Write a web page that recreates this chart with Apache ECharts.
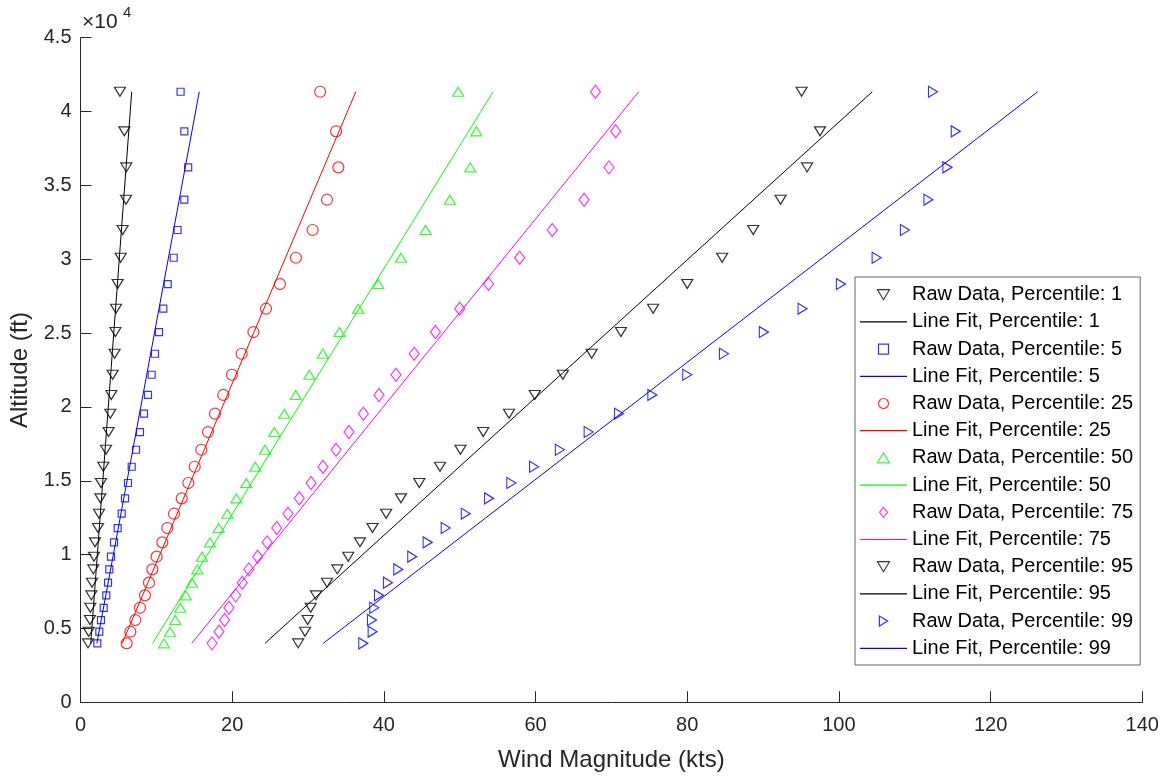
<!DOCTYPE html>
<html><head><meta charset="utf-8">
<script src="https://cdn.jsdelivr.net/npm/echarts@6/dist/echarts.min.js"></script>
<style>html,body{margin:0;padding:0;background:#fff}#c{width:1169px;height:780px}</style>
</head><body><div id="c"></div>
<script>
// Altitude levels (ft), top to bottom
const altitudeFt = [41340, 38660, 36220, 34030, 31980, 30100, 28320, 26650, 25070, 23600, 22180, 20810, 19540, 18300, 17100, 15950, 14850, 13810, 12770, 11800, 10830, 9860, 9000, 8100, 7240, 6400, 5570, 4780, 3990];
// Raw wind magnitude (kts) per percentile
const p1  = [5.2, 5.78, 6.04, 6.0, 5.56, 5.3, 4.9, 4.68, 4.6, 4.5, 4.24, 4.06, 3.93, 3.71, 3.36, 3.01, 2.70, 2.62, 2.44, 2.31, 1.91, 1.78, 1.69, 1.52, 1.43, 1.30, 1.25, 1.08, 0.99];
const p5  = [13.2, 13.69, 14.2, 13.69, 12.8, 12.29, 11.5, 10.92, 10.35, 9.82, 9.38, 8.9, 8.37, 7.84, 7.32, 6.75, 6.26, 5.87, 5.43, 4.9, 4.42, 4.02, 3.8, 3.63, 3.4, 3.06, 2.70, 2.48, 2.22];
const p25 = [31.6, 33.7, 34.0, 32.5, 30.6, 28.4, 26.3, 24.46, 22.8, 21.25, 19.97, 18.83, 17.73, 16.81, 15.93, 15.06, 14.22, 13.34, 12.33, 11.45, 10.79, 10.04, 9.47, 9.03, 8.5, 7.84, 7.23, 6.57, 6.09];
const p50 = [49.8, 52.2, 51.4, 48.7, 45.5, 42.25, 39.26, 36.6, 34.15, 31.95, 30.17, 28.37, 26.87, 25.55, 24.32, 23.05, 21.86, 20.54, 19.36, 18.22, 17.07, 16.02, 15.4, 14.7, 13.9, 13.16, 12.5, 11.8, 11.0];
const p75 = [67.9, 70.56, 69.68, 66.4, 62.2, 57.9, 53.8, 50.0, 46.8, 44.0, 41.6, 39.35, 37.3, 35.4, 33.7, 31.97, 30.4, 28.85, 27.36, 25.87, 24.6, 23.36, 22.2, 21.33, 20.46, 19.58, 19.0, 18.26, 17.34];
const p95 = [95.08, 97.5, 95.8, 92.3, 88.7, 84.6, 80.0, 75.5, 71.26, 67.4, 63.6, 59.9, 56.5, 53.1, 50.1, 47.4, 44.67, 42.25, 40.3, 38.5, 36.85, 35.3, 33.86, 32.5, 31.05, 30.35, 29.95, 29.6, 28.7];
const p99 = [112.4, 115.4, 114.3, 111.8, 108.7, 104.97, 100.26, 95.2, 90.1, 84.84, 80.0, 75.4, 71.0, 67.0, 63.2, 59.8, 56.8, 53.86, 50.8, 48.15, 45.77, 43.74, 41.9, 40.54, 39.35, 38.73, 38.43, 38.52, 37.28];
// Line fit end points: wind (kts) at lowest and highest altitude
const fitAltitudeFt = [3990, 41340];
const fit1  = [1.35, 6.75];
const fit5  = [2.16, 15.66];
const fit25 = [5.5, 36.3];
const fit50 = [9.5, 54.4];
const fit75 = [14.66, 73.6];
const fit95 = [24.32, 104.4];
const fit99 = [32.0, 126.2];
const percentiles = [1, 5, 25, 50, 75, 95, 99];
const xTicks = [0, 20, 40, 60, 80, 100, 120, 140];
const yTicks = [0, 0.5, 1, 1.5, 2, 2.5, 3, 3.5, 4, 4.5];

const raw = [p1, p5, p25, p50, p75, p95, p99];
const fits = [fit1, fit5, fit25, fit50, fit75, fit95, fit99];
const colors = ['#000000', '#0000ff', '#ff0000', '#00ff00', '#ff00ff', '#000000', '#0000ff'];
const symbols = [
  {symbol: 'triangle', size: [11, 9], rotate: 180, icon: 'path://M0,0L12,0L6,10Z'},
  {symbol: 'rect', size: 7, rotate: 0, icon: 'path://M0,0L10,0L10,10L0,10Z'},
  {symbol: 'circle', size: 11, rotate: 0, icon: 'circle'},
  {symbol: 'triangle', size: [11, 9], rotate: 0, icon: 'path://M6,0L12,10L0,10Z'},
  {symbol: 'diamond', size: [10, 13], rotate: 0, icon: 'path://M4,0L8,5L4,10L0,5Z'},
  {symbol: 'triangle', size: [11, 9], rotate: 180, icon: 'path://M0,0L12,0L6,10Z'},
  {symbol: 'triangle', size: [11, 9], rotate: -90, icon: 'path://M0,0L9,5.5L0,11Z'}
];
const FONT = '"Liberation Sans", Arial, sans-serif';
const TXT = '#262626';

const series = [];
const legendData = [];
percentiles.forEach((p, k) => {
  const rn = 'Raw Data, Percentile: ' + p;
  const ln = 'Line Fit, Percentile: ' + p;
  legendData.push({name: rn, icon: symbols[k].icon,
    itemStyle: {color: 'rgba(0,0,0,0)', borderColor: colors[k], borderWidth: 1.2}});
  legendData.push({name: ln, icon: 'path://M0,0L47,0L47,1.2L0,1.2Z',
    itemStyle: {color: colors[k], borderWidth: 0}});
  series.push({
    type: 'scatter', name: rn,
    data: altitudeFt.map((a, i) => [raw[k][i], a]),
    symbol: symbols[k].symbol, symbolSize: symbols[k].size, symbolRotate: symbols[k].rotate,
    itemStyle: {color: 'rgba(0,0,0,0)', borderColor: colors[k], borderWidth: 1.2},
    z: 3
  });
  series.push({
    type: 'line', name: ln,
    data: fitAltitudeFt.map((a, i) => [fits[k][i], a]),
    symbol: 'none', showSymbol: false,
    lineStyle: {color: colors[k], width: 1},
    itemStyle: {color: colors[k]},
    z: 2
  });
});

const chart = echarts.init(document.getElementById('c'), null, {renderer: 'canvas'});
chart.setOption({
  animation: false,
  backgroundColor: '#fff',
  grid: {left: 80.5, right: 26.7, top: 37.7, bottom: 77.7, containLabel: false},
  xAxis: {
    type: 'value', min: xTicks[0], max: xTicks[xTicks.length - 1], interval: 20,
    name: 'Wind Magnitude (kts)', nameLocation: 'middle', nameGap: 46,
    nameTextStyle: {fontFamily: FONT, fontSize: 24, color: TXT},
    axisLine: {show: true, lineStyle: {color: TXT, width: 1}},
    axisTick: {show: true, inside: true, length: 11, lineStyle: {color: TXT}},
    axisLabel: {fontFamily: FONT, fontSize: 20, color: TXT, margin: 13},
    splitLine: {show: false}
  },
  yAxis: {
    type: 'value', min: yTicks[0] * 10000, max: yTicks[yTicks.length - 1] * 10000, interval: 5000,
    name: 'Altitude (ft)', nameLocation: 'middle', nameGap: 46,
    nameTextStyle: {fontFamily: FONT, fontSize: 24, color: TXT},
    axisLine: {show: true, lineStyle: {color: TXT, width: 1}},
    axisTick: {show: true, inside: true, length: 11, lineStyle: {color: TXT}},
    axisLabel: {fontFamily: FONT, fontSize: 20, color: TXT, margin: 9,
      formatter: v => String(Math.round(v / 1000) / 10)},
    splitLine: {show: false}
  },
  legend: {
    data: legendData, orient: 'vertical', left: 855, top: 277,
    padding: [7.7, 7, 6.7, 5], itemGap: 7.2, itemWidth: 47, itemHeight: 10,
    symbolKeepAspect: true,
    backgroundColor: '#fff', borderColor: '#666', borderWidth: 1,
    textStyle: {fontFamily: FONT, fontSize: 20, color: '#000', lineHeight: 20}
  },
  graphic: [
    {type: 'text', left: 82, top: 12, style: {text: '×10', font: '21px ' + FONT, fill: TXT}},
    {type: 'text', left: 123, top: 5, style: {text: '4', font: '15px ' + FONT, fill: TXT}}
  ],
  series: series
});
</script></body></html>
